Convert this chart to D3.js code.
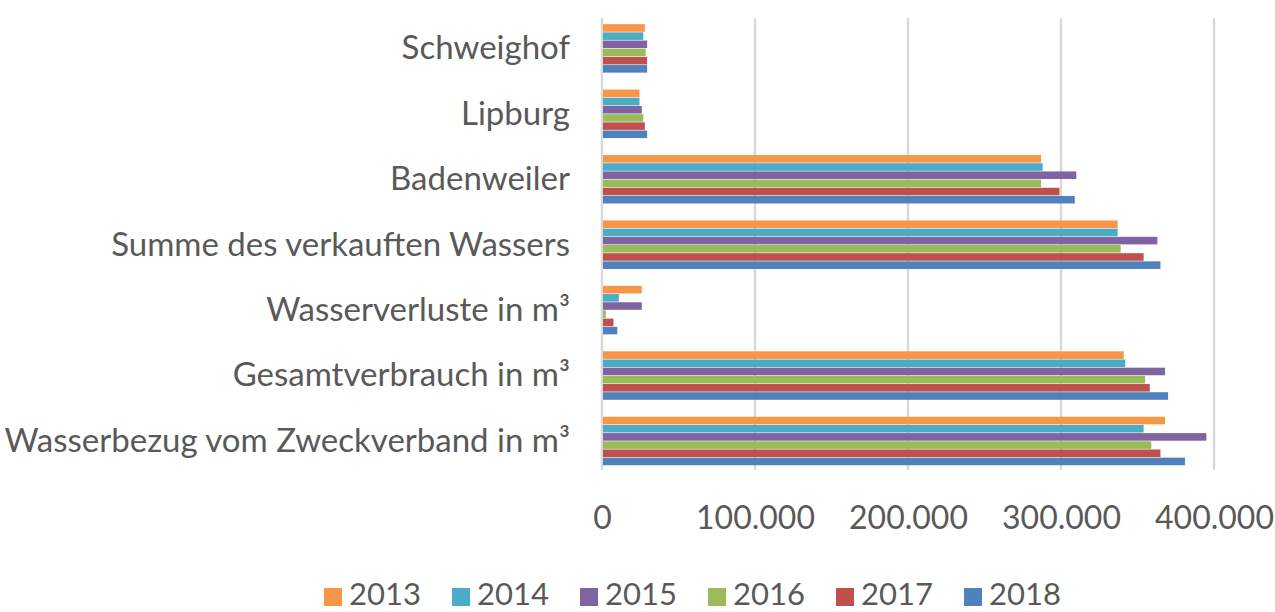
<!DOCTYPE html>
<html>
<head>
<meta charset="utf-8">
<script src="https://cdn.jsdelivr.net/npm/d3@7"></script>
<style>
  body { margin: 0; background: #fff; }
  text { font-family: Lato, "Open Sans", sans-serif; fill: #595959; }
</style>
</head>
<body>
<div id="chart"></div>
<script>
'use strict'

// categories, top to bottom
const categories = [
    'Schweighof',
    'Lipburg',
    'Badenweiler',
    'Summe des verkauften Wassers',
    'Wasserverluste in m³',
    'Gesamtverbrauch in m³',
    'Wasserbezug vom Zweckverband in m³'
]

const years = ['2013', '2014', '2015', '2016', '2017', '2018']

// one array per year, same order as categories
const v2013 = [28000, 24500, 287000, 337000, 26000, 341000, 368000]
const v2014 = [27000, 24500, 288000, 337000, 11000, 342000, 354000]
const v2015 = [29500, 26000, 310000, 363000, 26000, 368000, 395000]
const v2016 = [28500, 27000, 287000, 339000, 2500, 355000, 359000]
const v2017 = [29500, 28000, 299000, 354000, 7500, 358000, 365000]
const v2018 = [29500, 29500, 309000, 365000, 10000, 370000, 381000]

const xTicks = [0, 100000, 200000, 300000, 400000]

const colors = ['#F79646', '#4BACC6', '#8064A2', '#9BBB59', '#C0504D', '#4F81BD']

const series = [v2013, v2014, v2015, v2016, v2017, v2018]

////////////////////////////////////
//////////// svg setup /////////////
////////////////////////////////////

const svgWidth = 1275
const svgHeight = 612

const margin = { left: 602, right: 61, top: 16, bottom: 138 }
const width = svgWidth - margin.left - margin.right
const height = svgHeight - margin.top - margin.bottom

const svg = d3.select('#chart')
    .append('svg')
    .attr('width', svgWidth)
    .attr('height', svgHeight)

const g = svg.append('g')
    .attr('transform', `translate(${margin.left},${margin.top})`)

////////////////////////////////////
//////////////scales////////////////
////////////////////////////////////

const xScale = d3.scaleLinear()
    .domain([0, 400000])
    .range([0, width])

const yScale = d3.scaleBand()
    .domain(categories)
    .range([0, height])
    .paddingInner(0.25)
    .paddingOuter(0.125)

const yInner = d3.scaleBand()
    .domain(years)
    .range([0, yScale.bandwidth()])

const fmt = d => d === 0 ? '0' : d3.format(',')(d).replace(/,/g, '.')

////////////////////////////////////
//////////////grid//////////////////
////////////////////////////////////

g.selectAll('.grid')
    .data(xTicks)
    .join('line')
    .attr('class', 'grid')
    .attr('x1', d => xScale(d))
    .attr('x2', d => xScale(d))
    .attr('y1', 2)
    .attr('y2', height - 4)
    .attr('stroke', '#D9D9D9')
    .attr('stroke-width', 2.5)

////////////////////////////////////
//////////////bars//////////////////
////////////////////////////////////

const rows = []
categories.forEach((c, i) => {
    years.forEach((y, j) => {
        rows.push({ cat: c, year: y, value: series[j][i], color: colors[j] })
    })
})

g.selectAll('.bar')
    .data(rows)
    .join('rect')
    .attr('class', 'bar')
    .attr('x', xScale(0) + 1)
    .attr('y', d => yScale(d.cat) + yInner(d.year))
    .attr('width', d => xScale(d.value) - xScale(0) - 1)
    .attr('height', yInner.bandwidth() - 0.6)
    .attr('fill', d => d.color)

////////////////////////////////////
//////////////axes//////////////////
////////////////////////////////////

const xAxis = g.append('g')
    .attr('transform', `translate(0,${height})`)
    .call(d3.axisBottom(xScale).tickValues(xTicks).tickFormat(fmt).tickSize(0).tickPadding(32))
xAxis.select('.domain').remove()
xAxis.selectAll('text')
    .style('font-size', '32px')
    .attr('fill', '#595959')

const yAxis = g.append('g')
    .call(d3.axisLeft(yScale).tickSize(0).tickPadding(32))
yAxis.select('.domain').remove()
yAxis.selectAll('text')
    .style('font-size', '33px')
    .attr('fill', '#595959')

////////////////////////////////////
//////////////legend////////////////
////////////////////////////////////

const legend = svg.append('g')
    .attr('transform', 'translate(324,595)')

const item = legend.selectAll('.item')
    .data(years)
    .join('g')
    .attr('class', 'item')
    .attr('transform', (d, i) => `translate(${i * 128},0)`)

item.append('rect')
    .attr('x', 0)
    .attr('y', -7)
    .attr('width', 18)
    .attr('height', 18)
    .attr('fill', (d, i) => colors[i])

item.append('text')
    .attr('x', 25)
    .attr('y', 0)
    .attr('dy', '0.33em')
    .style('font-size', '31px')
    .text(d => d)
</script>
</body>
</html>
